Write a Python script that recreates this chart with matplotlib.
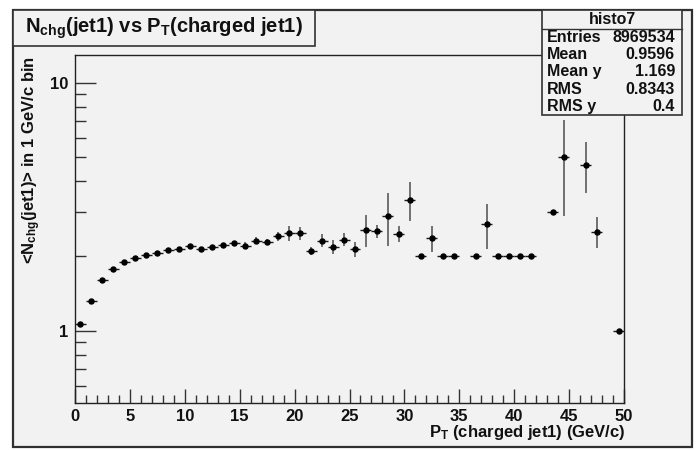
import matplotlib
matplotlib.use("Agg")
import matplotlib.pyplot as plt
from matplotlib.patches import Rectangle
from matplotlib.lines import Line2D
from matplotlib.ticker import FixedLocator, NullFormatter
import numpy as np

# ---- data: mean charged multiplicity of leading jet per 1 GeV/c pT bin ----
pt_bins = [0.5, 1.5, 2.5, 3.5, 4.5, 5.5, 6.5, 7.5, 8.5, 9.5,
           10.5, 11.5, 12.5, 13.5, 14.5, 15.5, 16.5, 17.5, 18.5, 19.5,
           20.5, 21.5, 22.5, 23.5, 24.5, 25.5, 26.5, 27.5, 28.5, 29.5,
           30.5, 31.5, 32.5, 33.5, 34.5, 36.5, 37.5, 38.5, 39.5, 40.5,
           41.5, 43.5, 44.5, 46.5, 47.5, 49.5]
mean_nchg = [1.064, 1.314, 1.60, 1.774, 1.89, 1.958, 2.014, 2.063, 2.11, 2.135,
             2.20, 2.135, 2.175, 2.22, 2.26, 2.20, 2.31, 2.28, 2.40, 2.47,
             2.47, 2.096, 2.31, 2.175, 2.33, 2.13, 2.55, 2.52, 2.90, 2.46,
             3.37, 2.0, 2.36, 2.0, 2.0, 2.0, 2.69, 2.0, 2.0, 2.0,
             2.0, 3.0, 5.0, 4.67, 2.51, 1.0]
err_nchg = [0.005, 0.005, 0.005, 0.007, 0.008, 0.01, 0.012, 0.015, 0.018, 0.022,
            0.025, 0.03, 0.035, 0.04, 0.045, 0.07, 0.08, 0.07, 0.09, 0.17,
            0.15, 0.08, 0.14, 0.14, 0.14, 0.145, 0.37, 0.155, 0.70, 0.175,
            0.59, 0.0, 0.285, 0.0, 0.0, 0.0, 0.55, 0.0, 0.0, 0.0,
            0.0, 0.0, 2.1, 1.08, 0.36, 0.0]
bin_half_width = 0.5

stats_labels = ["Entries", "Mean", "Mean y", "RMS", "RMS y"]
stats_values = ["8969534", "0.9596", "1.169", "0.8343", "0.4"]
hist_name = "histo7"

# ---- style ----
W, H = 699, 450
BG = "#f2f2f2"
FONT = "Liberation Sans"
plt.rcParams["font.family"] = [FONT, "DejaVu Sans"]
plt.rcParams["font.weight"] = "bold"
plt.rcParams["mathtext.fontset"] = "custom"
plt.rcParams["mathtext.rm"] = f"{FONT}:bold"
plt.rcParams["mathtext.it"] = f"{FONT}:bold"
plt.rcParams["mathtext.bf"] = f"{FONT}:bold"

fig = plt.figure(figsize=(W / 100, H / 100), dpi=100, facecolor="white")


def fx(px):
    return px / W


def fy(py):
    return 1 - py / H


# canvas pad
fig.patches.append(Rectangle((fx(13), fy(447)), fx(692) - fx(13), fy(10) - fy(447),
                             transform=fig.transFigure, facecolor=BG,
                             edgecolor="#303030", lw=1.6, zorder=-10))

ax = fig.add_axes([fx(75), fy(403), fx(624) - fx(75), fy(55) - fy(403)])
ax.set_zorder(1)
ax.set_facecolor(BG)
ax.set_yscale("log")
ax.set_xlim(0, 50)
ax.set_ylim(0.511, 12.93)

x = np.array(pt_bins)
y = np.array(mean_nchg)
e = np.array(err_nchg)

# vertical (statistical) error bars
ax.errorbar(x, y, yerr=e, fmt="none", ecolor="#666666", elinewidth=1.3, capsize=0, zorder=2)
# horizontal bin-width bars
ax.errorbar(x, y, xerr=bin_half_width, fmt="none", ecolor="#1a1a1a", elinewidth=1.0, capsize=0, zorder=3)
ax.plot(x, y, "o", color="black", markersize=3.6, zorder=4)

# ticks (inside, bottom/left only)
ax.xaxis.set_major_locator(FixedLocator(np.arange(0, 51, 5)))
ax.xaxis.set_minor_locator(FixedLocator(np.arange(0, 51, 1)))
ax.yaxis.set_major_locator(FixedLocator([1, 10]))
ax.yaxis.set_minor_locator(FixedLocator([0.6, 0.7, 0.8, 0.9, 2, 3, 4, 5, 6, 7, 8, 9]))
ax.yaxis.set_minor_formatter(NullFormatter())
ax.set_yticklabels(["1", "10"])
ax.tick_params(axis="x", which="major", direction="in", length=10, width=1, color="#333333",
               labelsize=12, pad=4)
ax.tick_params(axis="x", which="minor", direction="in", length=5.5, width=1, color="#333333")
ax.tick_params(axis="y", which="major", direction="in", length=15, width=1, color="#333333",
               labelsize=12, pad=5)
ax.tick_params(axis="y", which="minor", direction="in", length=8, width=1, color="#333333")
for lbl in ax.get_xticklabels() + ax.get_yticklabels():
    lbl.set_fontweight("bold")
    lbl.set_color("#111111")
for sp in ax.spines.values():
    sp.set_color("#222222")
    sp.set_linewidth(1.0)

# axis titles (right-aligned at the end of the axis)
fig.text(fx(625), fy(432), r"P$_{\mathrm{T}}$ (charged jet1) (GeV/c)",
         ha="right", va="center", fontsize=12, fontweight="bold", color="#111111", zorder=3)
fig.text(fx(32), fy(56), r"<N$_{\mathrm{chg}}$(jet1)> in 1 GeV/c bin",
         ha="center", va="top", rotation=90, fontsize=12, fontweight="bold",
         color="#111111", zorder=3)

# title box
fig.patches.append(Rectangle((fx(13), fy(46)), fx(315) - fx(13), fy(10) - fy(46),
                             transform=fig.transFigure, facecolor=BG,
                             edgecolor="#333333", lw=1.2, zorder=5))
fig.text(fx(164), fy(28), r"N$_{\mathrm{chg}}$(jet1) vs P$_{\mathrm{T}}$(charged jet1)",
         ha="center", va="center", fontsize=14.5, fontweight="bold", color="#111111", zorder=6)

# statistics box
sx0, sx1, sy0, sy1 = 542, 682, 10, 115
fig.patches.append(Rectangle((fx(sx0), fy(sy1)), fx(sx1) - fx(sx0), fy(sy0) - fy(sy1),
                             transform=fig.transFigure, facecolor=BG,
                             edgecolor="#333333", lw=1.2, zorder=5))
head_y = 28.5
fig.lines.append(Line2D([fx(sx0), fx(sx1)], [fy(head_y), fy(head_y)],
                        transform=fig.transFigure, color="#333333", lw=1.0, zorder=6))
fig.text(fx((sx0 + sx1) / 2), fy(19.5), hist_name, ha="center", va="center",
         fontsize=11.5, fontweight="bold", color="#111111", zorder=7)
row_h = (sy1 - head_y) / len(stats_labels)
for i, (lab, val) in enumerate(zip(stats_labels, stats_values)):
    yc = head_y + row_h * (i + 0.5)
    fig.text(fx(547), fy(yc), lab, ha="left", va="center", fontsize=11.5,
             fontweight="bold", color="#111111", zorder=7)
    fig.text(fx(675), fy(yc), val, ha="right", va="center", fontsize=11.5,
             fontweight="bold", color="#111111", zorder=7)

fig.savefig("out.png", dpi=100, facecolor="white")
